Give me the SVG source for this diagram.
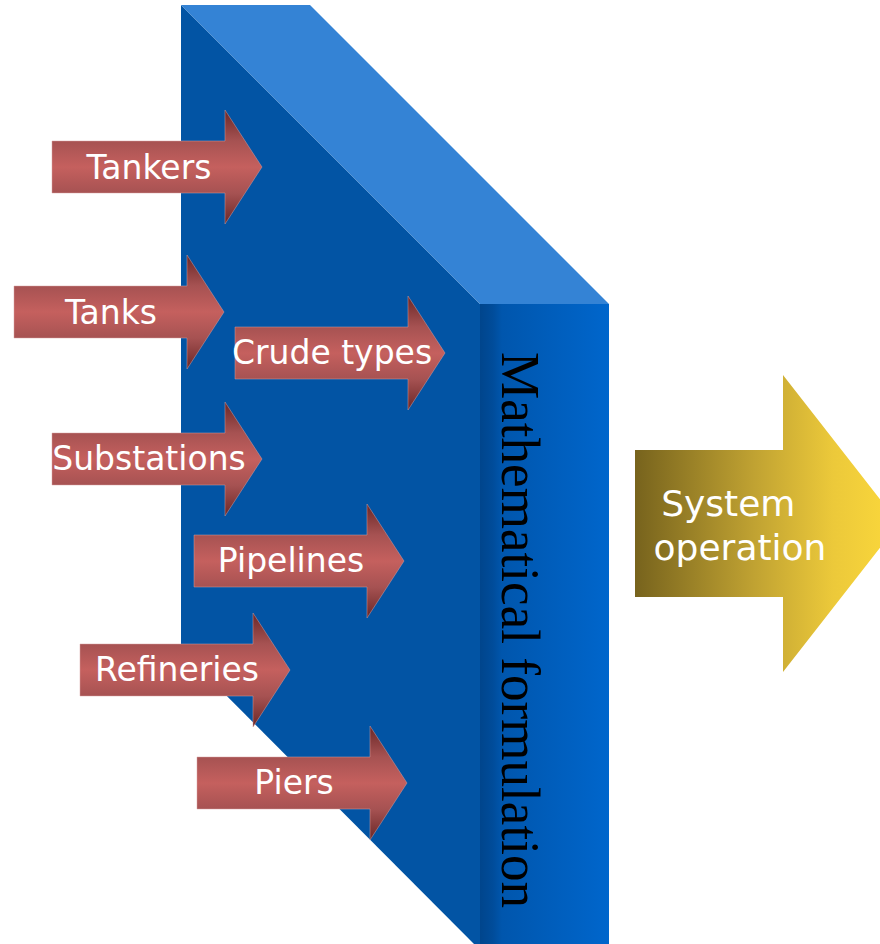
<svg xmlns="http://www.w3.org/2000/svg" xmlns:xlink="http://www.w3.org/1999/xlink" width="880" height="944" viewBox="0 0 880 944">
  <defs>
    <linearGradient id="redFill" x1="0" y1="0" x2="0" y2="1">
      <stop offset="0" stop-color="#6a2727"/>
      <stop offset="0.27" stop-color="#a65252"/>
      <stop offset="0.5" stop-color="#c5605e"/>
      <stop offset="0.73" stop-color="#a65252"/>
      <stop offset="1" stop-color="#6a2727"/>
    </linearGradient>
    <linearGradient id="sideFill" x1="0" y1="0" x2="1" y2="0">
      <stop offset="0" stop-color="#00458c"/>
      <stop offset="0.1" stop-color="#004c9a"/>
      <stop offset="0.17" stop-color="#0056ad"/>
      <stop offset="1" stop-color="#0066cc"/>
    </linearGradient>
    <linearGradient id="goldFill" x1="0" y1="0" x2="1" y2="0">
      <stop offset="0" stop-color="#77631d"/>
      <stop offset="0.45" stop-color="#c0a232"/>
      <stop offset="0.75" stop-color="#ecc93a"/>
      <stop offset="1" stop-color="#fcd93b"/>
    </linearGradient>
    <!-- block arrow, origin at left end of body, vertical centre -->
    <path id="blockArrow" d="M0,-26 H173 V-57 L210,0 L173,57 V26 H0 Z"/>
  </defs>
  <style>
    .arrow { fill: url(#redFill); stroke: #d9a3a3; stroke-width: 0.8; stroke-opacity: 0.6; }
    .label { font-family: "DejaVu Sans", Verdana, sans-serif; font-size: 33px; fill: #ffffff; text-anchor: middle; }
    .slabText { font-family: "Liberation Serif", "Times New Roman", serif; font-size: 55px; fill: #000000; }
  </style>

  <!-- 3D slab -->
  <g id="slab">
    <polygon points="181,5 480,304 480,950 181,650" fill="#0254a4"/>
    <polygon points="181,5 310,5 609,304 480,304" fill="#3483d5"/>
    <rect x="480" y="304" width="129" height="640" fill="url(#sideFill)"/>
    <text class="slabText" transform="translate(502,352) rotate(90)" x="0" y="0" textLength="556" lengthAdjust="spacingAndGlyphs">Mathematical formulation</text>
  </g>

  <g id="tankers" transform="translate(52,167)">
    <use xlink:href="#blockArrow" class="arrow"/>
    <text class="label" x="97" y="12">Tankers</text>
  </g>
  <g id="tanks" transform="translate(14,312)">
    <use xlink:href="#blockArrow" class="arrow"/>
    <text class="label" x="97" y="12">Tanks</text>
  </g>
  <g id="crude-types" transform="translate(235,353)">
    <use xlink:href="#blockArrow" class="arrow"/>
    <text class="label" x="97" y="11">Crude types</text>
  </g>
  <g id="substations" transform="translate(52,459)">
    <use xlink:href="#blockArrow" class="arrow"/>
    <text class="label" x="97" y="11">Substations</text>
  </g>
  <g id="pipelines" transform="translate(194,561)">
    <use xlink:href="#blockArrow" class="arrow"/>
    <text class="label" x="97" y="11">Pipelines</text>
  </g>
  <g id="refineries" transform="translate(80,670)">
    <use xlink:href="#blockArrow" class="arrow"/>
    <text class="label" x="97" y="11">Refineries</text>
  </g>
  <g id="piers" transform="translate(197,783)">
    <use xlink:href="#blockArrow" class="arrow"/>
    <text class="label" x="97" y="11">Piers</text>
  </g>

  <g id="system-operation">
    <path d="M635,450 H783 V375 L899,523.5 L783,672 V597 H635 Z" fill="url(#goldFill)"/>
    <text font-family="DejaVu Sans, Verdana, sans-serif" font-size="36" fill="#ffffff" text-anchor="middle">
      <tspan x="734" y="516">System</tspan>
      <tspan x="740" y="560">operation</tspan>
    </text>
  </g>
</svg>
